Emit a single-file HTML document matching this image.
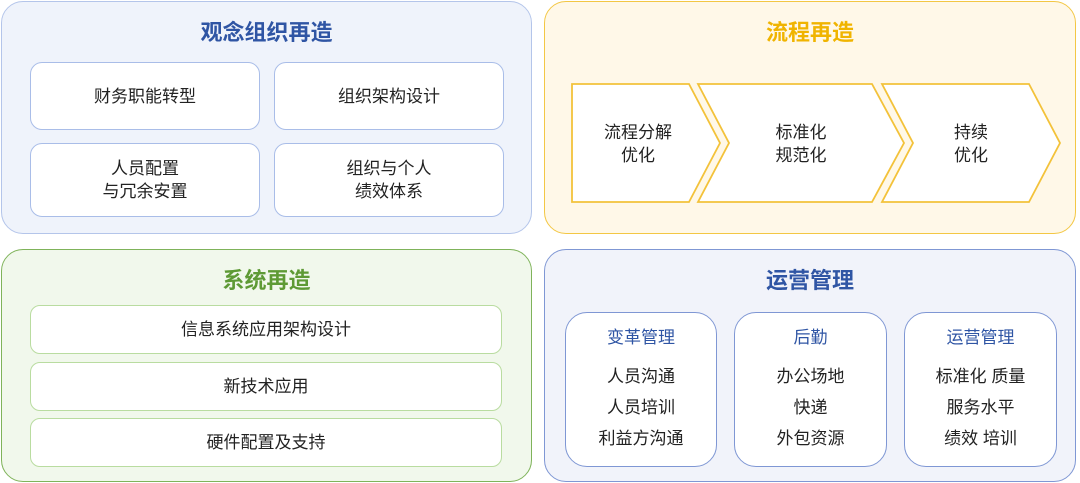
<!DOCTYPE html>
<html><head><meta charset="utf-8"><style>
body{margin:0;width:1080px;height:483px;background:#fff;position:relative;overflow:hidden;font-family:"Liberation Sans","Noto Sans CJK SC",sans-serif;}
.p{position:absolute;box-sizing:border-box;border-radius:22px;}
.t{position:absolute;left:0;right:0;text-align:center;font-weight:bold;font-size:22px;}
.b{position:absolute;box-sizing:border-box;background:#fff;border-radius:12px;display:flex;align-items:center;justify-content:center;text-align:center;font-size:17px;line-height:23px;color:#222;}
.s{position:absolute;box-sizing:border-box;background:#fff;border:1.5px solid #7f97d4;border-radius:22px;text-align:center;font-size:17px;color:#222;}
.s div{position:absolute;left:0;right:0;}
</style></head><body>
<div class="p" style="left:1px;top:1px;width:531px;height:233px;background:#eff3fb;border:1.5px solid #b4c5ea;">
<div class="t" style="top:13px;color:#2f55a4;">观念组织再造</div></div>
<div class="b" style="left:30px;top:62px;width:230px;height:68px;border:1.5px solid #a9bde8;">财务职能转型</div>
<div class="b" style="left:274px;top:62px;width:230px;height:68px;border:1.5px solid #a9bde8;">组织架构设计</div>
<div class="b" style="left:30px;top:143px;width:230px;height:74px;border:1.5px solid #a9bde8;">人员配置<br>与冗余安置</div>
<div class="b" style="left:274px;top:143px;width:230px;height:74px;border:1.5px solid #a9bde8;">组织与个人<br>绩效体系</div>

<div class="p" style="left:544px;top:1px;width:532px;height:233px;background:#fff8e8;border:1.5px solid #f3c744;">
<div class="t" style="top:13px;color:#f0b400;">流程再造</div></div>
<svg style="position:absolute;left:0;top:0" width="1080" height="483">
<g fill="#fff" stroke="#f3c23a" stroke-width="1.8">
<polygon points="572,84 689,84 720,143 689,202 572,202"/>
<polygon points="698,84 872,84 904,143 872,202 698,202 729,143"/>
<polygon points="882,84 1029,84 1060,143 1029,202 882,202 913,143"/>
</g>
<g font-size="17" fill="#222" text-anchor="middle" font-family="Liberation Sans,Noto Sans CJK SC,sans-serif">
<text x="638" y="138">流程分解</text><text x="638" y="161">优化</text>
<text x="801" y="138">标准化</text><text x="801" y="161">规范化</text>
<text x="971" y="138">持续</text><text x="971" y="161">优化</text>
</g></svg>

<div class="p" style="left:1px;top:249px;width:531px;height:233px;background:#f1f8ec;border:1.5px solid #7fb35a;">
<div class="t" style="top:13px;color:#5e9a35;">系统再造</div></div>
<div class="b" style="left:30px;top:305px;width:472px;height:49px;border:1.5px solid #b9dca0;border-radius:10px;">信息系统应用架构设计</div>
<div class="b" style="left:30px;top:362px;width:472px;height:49px;border:1.5px solid #b9dca0;border-radius:10px;">新技术应用</div>
<div class="b" style="left:30px;top:418px;width:472px;height:49px;border:1.5px solid #b9dca0;border-radius:10px;">硬件配置及支持</div>

<div class="p" style="left:544px;top:249px;width:532px;height:233px;background:#f1f3fa;border:1.5px solid #7f97d4;">
<div class="t" style="top:13px;color:#2f55a4;">运营管理</div></div>
<div class="s" style="left:565px;top:312px;width:152px;height:155px;"><div style="top:10px;color:#2f55a4">变革管理</div><div style="top:49px">人员沟通</div><div style="top:80px">人员培训</div><div style="top:111px">利益方沟通</div></div>
<div class="s" style="left:734px;top:312px;width:153px;height:155px;"><div style="top:10px;color:#2f55a4">后勤</div><div style="top:49px">办公场地</div><div style="top:80px">快递</div><div style="top:111px">外包资源</div></div>
<div class="s" style="left:904px;top:312px;width:153px;height:155px;"><div style="top:10px;color:#2f55a4">运营管理</div><div style="top:49px">标准化 质量</div><div style="top:80px">服务水平</div><div style="top:111px">绩效 培训</div></div>
</body></html>
